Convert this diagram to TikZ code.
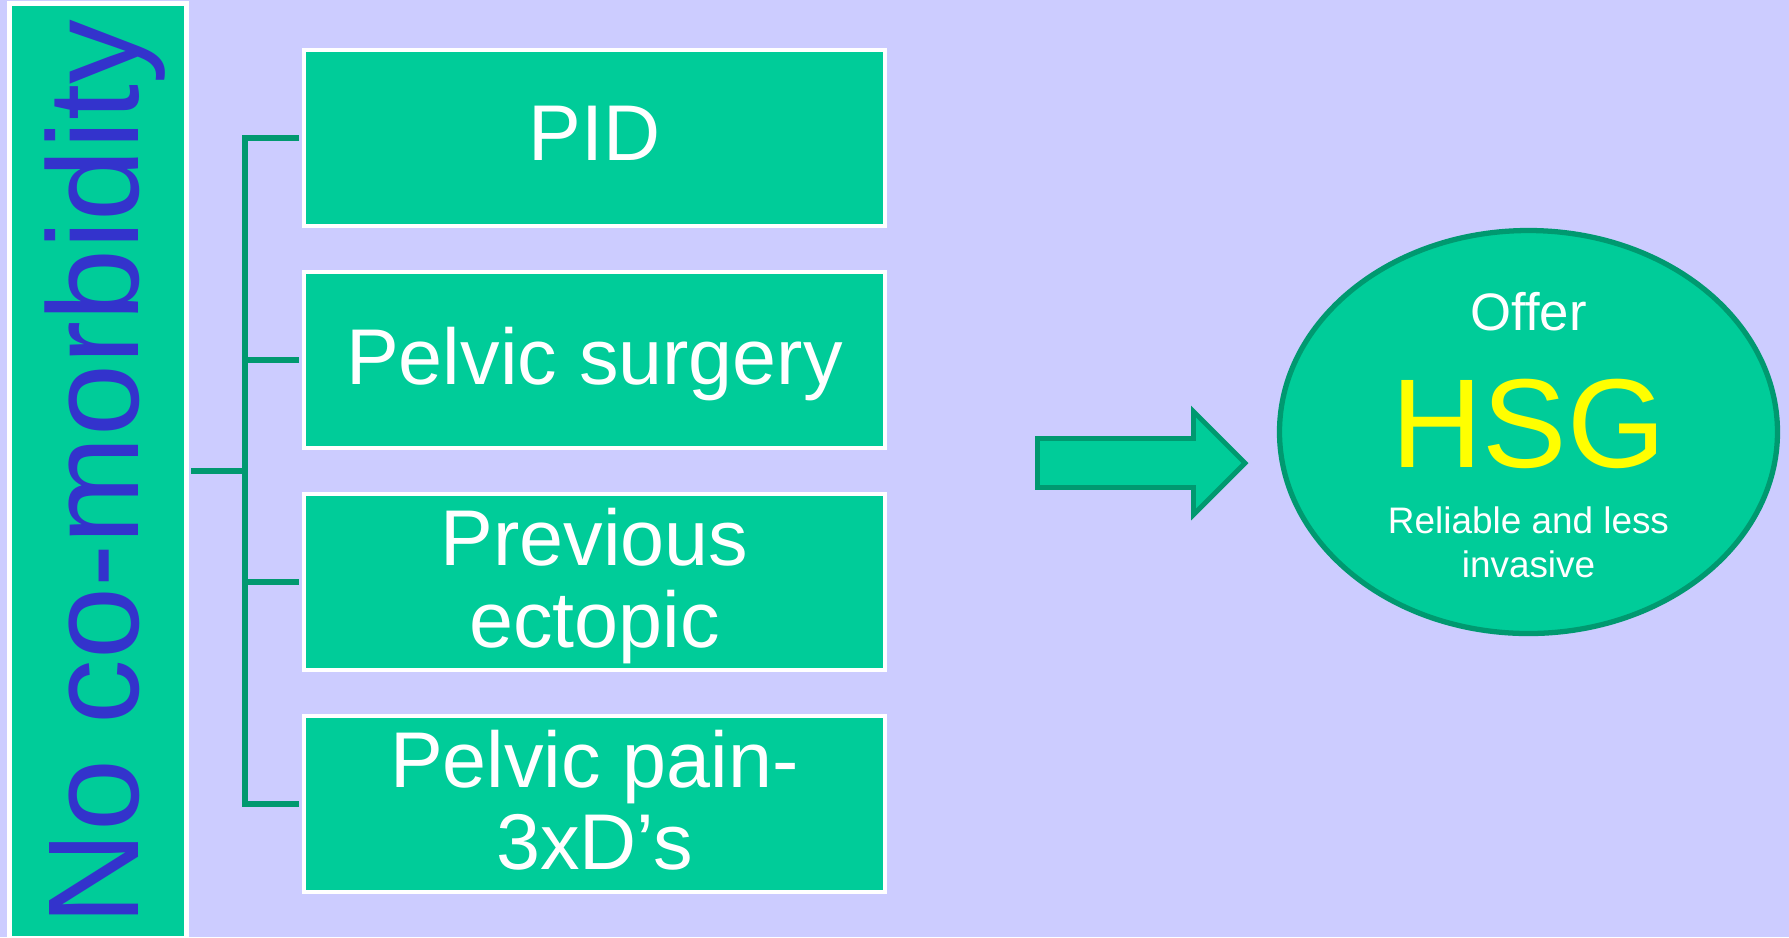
\documentclass[tikz,border=0pt]{standalone}
\usepackage{fontspec}
\setmainfont{Liberation Sans}
\usetikzlibrary{shapes.geometric}
\begin{document}
\begin{tikzpicture}[
    box/.style={rectangle, draw=white, line width=1.4pt, fill=boxColour, text=white,
        minimum width=5.81cm, minimum height=1.76cm, inner sep=0pt, align=center,
        text depth=2.5pt, font=\fontsize{22.5}{23.3}\selectfont},
    link/.style={draw=lineColour, line width=1.5pt, shorten <=0.7pt, shorten >=0.7pt},
    ]
    \definecolor{bgColour}{HTML}{CCCCFF}
    \definecolor{boxColour}{HTML}{00CC99}
    \definecolor{lineColour}{HTML}{009970}
    \definecolor{textBlue}{HTML}{3333CC}
    \definecolor{hsgYellow}{HTML}{FFFF00}

    % Background
    \fill[bgColour] (0,0) rectangle (17.89,-9.37);
    \useasboundingbox (0,0) rectangle (17.89,-9.37);

    % Left bar
    \node[rectangle, draw=white, line width=1.4pt, fill=boxColour, minimum width=1.77cm,
        minimum height=9.35cm, inner sep=0pt] (bar) at (0.98,-4.71) {};
    \node[rotate=90, anchor=base, text=textBlue, inner sep=0pt,
        font=\fontsize{36.8}{40}\selectfont] (nocomorb) at (1.38,-4.725) {No co-morbidity};

    % Boxes
    \node[box] (pid) at (5.945,-1.38) {PID};
    \node[box] (surgery) at (5.945,-3.60) {Pelvic surgery};
    \node[box] (ectopic) at (5.945,-5.82) {Previous\\ectopic};
    \node[box] (pain) at (5.945,-8.04) {Pelvic pain-\\3xD’s};

    % Connectors
    \coordinate (trunk) at (2.45,-4.71);
    \draw[link] (bar.east) -- (trunk);
    \draw[link] (pid.west) -| (trunk |- pain.west) -- (pain.west);
    \foreach \b in {surgery,ectopic}
        \draw[link] (trunk |- \b.west) -- (\b.west);

    % Block arrow
    \filldraw[fill=boxColour, draw=lineColour, line width=1.4pt]
        (10.375,-4.385) -- (11.935,-4.385) -- (11.935,-4.115) -- (12.45,-4.63)
        -- (11.935,-5.145) -- (11.935,-4.875) -- (10.375,-4.875) -- cycle;

    % Outcome
    \node[ellipse, draw=lineColour, fill=boxColour, line width=1.5pt, minimum width=4.98cm,
        minimum height=4.03cm, inner sep=0pt] (hsg) at (15.285,-4.32) {};
    \node[anchor=base, text=white, font=\fontsize{15}{18}\selectfont] (offer)
        at ([yshift=1.02cm]hsg.center) {Offer};
    \node[anchor=base, text=hsgYellow, font=\fontsize{36}{40}\selectfont] (hsgtext)
        at ([yshift=-0.35cm]hsg.center) {HSG};
    \node[anchor=base, text=white, font=\fontsize{10.5}{12.5}\selectfont] (reliable)
        at ([yshift=-1.01cm]hsg.center) {Reliable and less};
    \node[anchor=base, text=white, font=\fontsize{10.5}{12.5}\selectfont] (invasive)
        at ([yshift=-1.45cm]hsg.center) {invasive};

\end{tikzpicture}
\end{document}
